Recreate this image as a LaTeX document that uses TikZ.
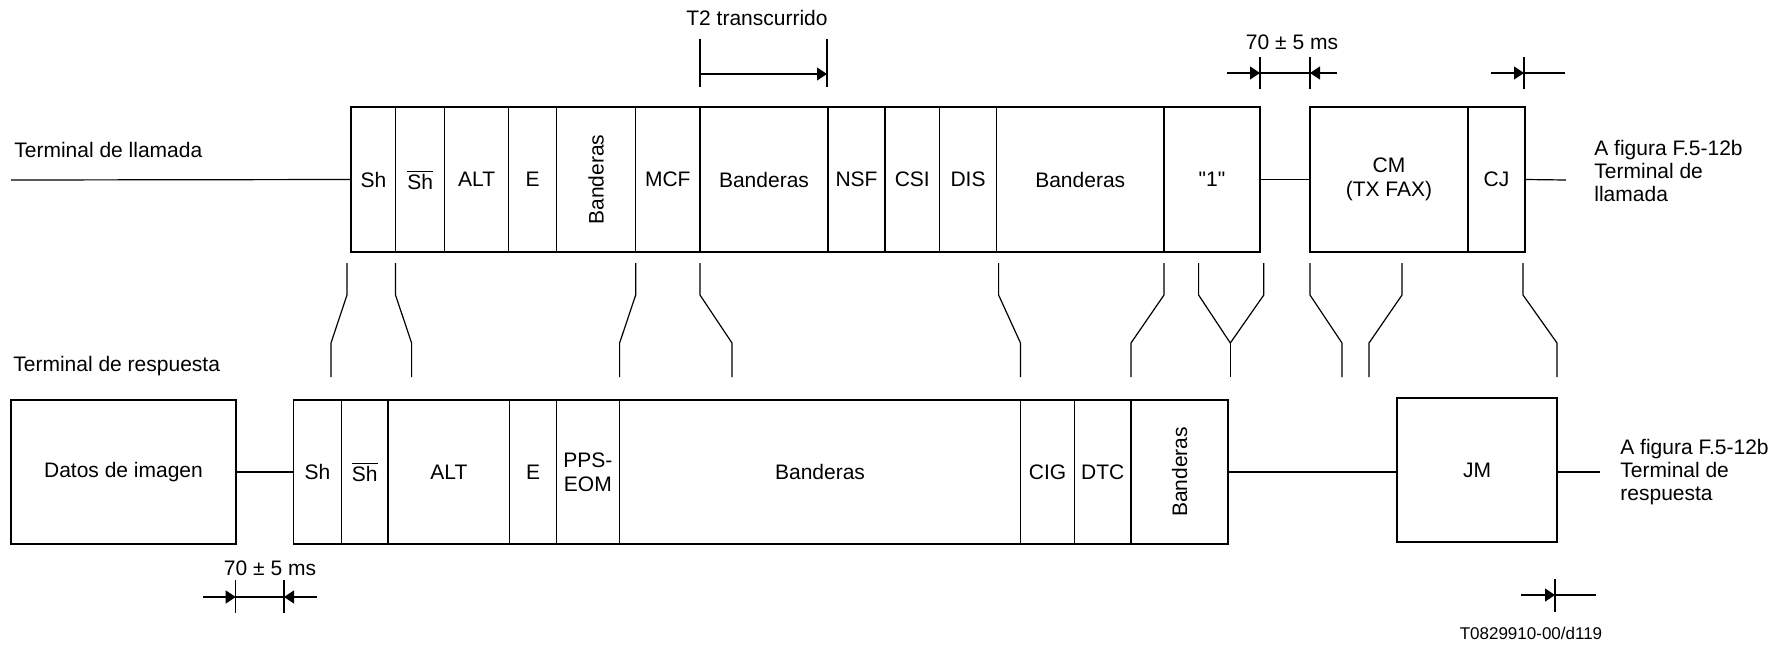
\documentclass[tikz,border=0pt]{standalone}
\usepackage{fontspec}
\setmainfont{Liberation Sans}
\usepackage{graphicx}
\usetikzlibrary{arrows.meta}
\newcommand\cellnode[6]{\node[cellbox, minimum width={(#3-#2)*0.5pt}, minimum height={(#5-#4)*0.5pt}] (#1) at ({(#2+#3)/2},{(#4+#5)/2}) {#6};}
\newcommand\connline[2]{\draw[wire] (#1,263) -- (#1,295) -- (#2,343) -- (#2,377);}
\newcommand\shbar{$\overline{\mbox{Sh}}$}
\begin{document}
\begin{tikzpicture}[x=0.5pt,y=-0.5pt,
  cellbox/.style={draw, line width=0.6pt, inner sep=0pt, align=center, font=\fontsize{10.5}{11.8}\selectfont},
  wire/.style={line width=0.6pt},
  lbl/.style={inner sep=0pt, font=\fontsize{10.5}{11.3}\selectfont, align=left},
  tip/.style={-{Triangle[length=5pt,width=6.5pt]}, line width=0.6pt}]
\useasboundingbox (0,0) rectangle (1785,644);

% ---- top row (calling terminal)
\cellnode{tSh}{351}{395.7}{107}{252}{Sh}
\cellnode{tShb}{395.7}{444.7}{107}{252}{\shbar}
\cellnode{tALT}{444.7}{508.6}{107}{252}{ALT}
\cellnode{tE}{508.6}{556.4}{107}{252}{E}
\cellnode{tBanA}{556.4}{635.6}{107}{252}{\rotatebox{90}{Banderas}}
\cellnode{tMCF}{635.6}{700}{107}{252}{MCF}
\cellnode{tBanB}{700}{828}{107}{252}{Banderas}
\cellnode{tNSF}{828}{885}{107}{252}{NSF}
\cellnode{tCSI}{885}{939.5}{107}{252}{CSI}
\cellnode{tDIS}{939.5}{996.5}{107}{252}{DIS}
\cellnode{tBanC}{996.5}{1164}{107}{252}{Banderas}
\cellnode{tOne}{1164}{1260}{107}{252}{\textquotedbl 1\textquotedbl}
\cellnode{tCM}{1310}{1468}{107}{252}{CM\\(TX FAX)}
\cellnode{tCJ}{1468}{1525}{107}{252}{CJ}

\coordinate (tl) at (11,180);
\coordinate (tr) at (1566,180);
\draw[wire] (tl) -- (tSh.west);
\draw[wire] (tOne.east) -- (tCM.west);
\draw[wire] (tCJ.east) -- (tr);

\node[lbl, anchor=west] (tlabel) at (14,150) {Terminal de llamada};
\node[lbl, anchor=west] (trlabel) at (1594,171) {A figura F.5-12b\\Terminal de\\llamada};

% ---- T2 marker
\node[lbl] (t2) at (757,18) {T2 transcurrido};
\draw[wire] (700,39) -- (700,87);
\draw[wire] (827,39) -- (827,87);
\draw[tip] (700,74) -- (827,74);

% ---- 70 +/- 5 ms top
\node[lbl] (ms1) at (1292,42) {70 ± 5 ms};
\draw[wire] (1260,57) -- (1260,89);
\draw[wire] (1310,57) -- (1310,89);
\draw[tip] (1227,73) -- (1260,73);
\draw[wire] (1260,73) -- (1310,73);
\draw[tip] (1337,73) -- (1310,73);
\draw[wire] (1524,57) -- (1524,89);
\draw[tip] (1491,73) -- (1524,73);
\draw[wire] (1524,73) -- (1565,73);

% ---- connectors
\connline{347}{331}
\connline{395.5}{411.6}
\connline{635.7}{619.6}
\connline{700}{732}
\connline{998.6}{1020.5}
\connline{1164}{1131}
\draw[wire] (1198.6,263) -- (1198.6,295) -- (1230.3,343) -- (1263.8,295) -- (1263.8,263);
\draw[wire] (1230.3,343) -- (1230.3,377);
\connline{1310}{1342}
\connline{1402}{1369}
\connline{1523}{1557}

% ---- bottom row (answering terminal)
\node[lbl, anchor=west] (blabel) at (13,366) {Terminal de respuesta};
\cellnode{dat}{11}{236}{400}{544}{Datos de imagen}
\cellnode{bSh}{293.3}{341.5}{400}{544}{Sh}
\cellnode{bShb}{341.5}{388}{400}{544}{\shbar}
\cellnode{bALT}{388}{509.8}{400}{544}{ALT}
\cellnode{bE}{509.8}{556.2}{400}{544}{E}
\cellnode{bPPS}{556.2}{619.6}{400}{544}{PPS-\\EOM}
\cellnode{bBanA}{619.6}{1020.5}{400}{544}{Banderas}
\cellnode{bCIG}{1020.5}{1074.5}{400}{544}{CIG}
\cellnode{bDTC}{1074.5}{1131}{400}{544}{DTC}
\cellnode{bBanB}{1131}{1228}{400}{544}{\rotatebox{90}{Banderas}}
\cellnode{bJM}{1397}{1557}{398}{542}{JM}

\coordinate (br) at (1600,472);
\draw[wire] (dat.east) -- (bSh.west);
\draw[wire] (bBanB.east) -- (bBanB.east -| bJM.west);
\draw[wire] (bJM.east |- br) -- (br);
\node[lbl, anchor=west] (brlabel) at (1620,472) {A figura F.5-12b\\Terminal de\\respuesta};

% ---- 70 +/- 5 ms bottom
\node[lbl] (ms2) at (270,568) {70 ± 5 ms};
\draw[wire] (235.7,580) -- (235.7,613);
\draw[wire] (284,580) -- (284,613);
\draw[tip] (203,597) -- (235.7,597);
\draw[wire] (235.7,597) -- (284,597);
\draw[tip] (317,597) -- (284,597);

% ---- bottom-right marker
\draw[wire] (1555,579) -- (1555,612);
\draw[tip] (1521,595) -- (1555,595);
\draw[wire] (1555,595) -- (1596,595);

\node[inner sep=0pt, font=\fontsize{8.5}{10}\selectfont] (code) at (1531,633) {T0829910-00/d119};
\end{tikzpicture}
\end{document}
